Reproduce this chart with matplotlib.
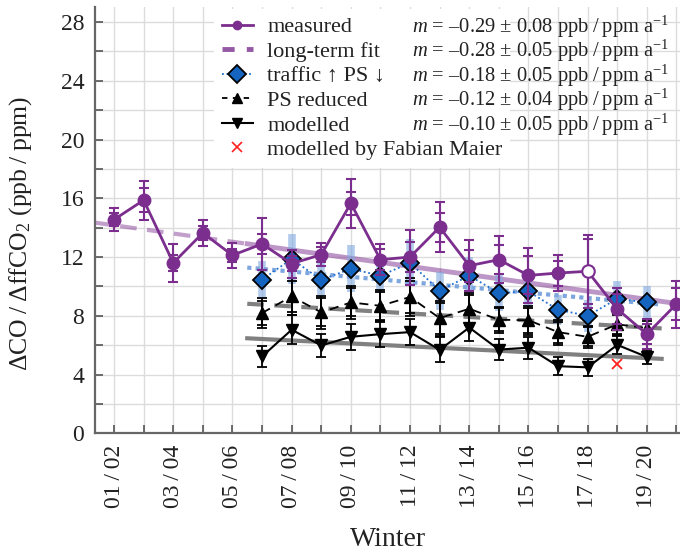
import numpy as np
import matplotlib
matplotlib.use("Agg")
import matplotlib.pyplot as plt
from matplotlib.ticker import MultipleLocator, FixedLocator
from matplotlib.lines import Line2D

plt.rcParams['font.family'] = ['Liberation Serif', 'DejaVu Serif']
plt.rcParams['mathtext.fontset'] = 'custom'
plt.rcParams['mathtext.rm'] = 'Liberation Serif'
plt.rcParams['mathtext.it'] = 'Liberation Serif:italic'

# ---------------- data ----------------
years_meas = np.arange(2001, 2021)
measured = [14.55, 15.87, 11.6, 13.64, 12.12, 12.89, 11.55, 12.16, 15.66, 11.82,
            12.0, 14.03, 11.41, 11.82, 10.75, 10.91, 11.03, 8.46, 6.75, 8.8]
meas_err_outer = [0.77, 1.33, 1.32, 0.9, 0.84, 1.77, 0.95, 0.77, 1.67, 1.07,
                  1.87, 1.7, 1.74, 1.6, 1.87, 1.2, 2.5, 1.4, 1.0, 1.6]
meas_err_inner = [0.43, 0.8, 0.55, 0.5, 0.45, 0.68, 0.5, 0.5, 0.8, 0.7,
                  1.0, 1.0, 1.1, 1.0, 1.3, 0.85, 2.2, 1.05, 0.7, 1.1]
meas_open = [False] * 16 + [True] + [False] * 3

years_mod = np.arange(2006, 2020)
traffic = [10.46, 11.87, 10.44, 11.2, 10.73, 11.6, 9.71, 10.73, 9.55, 9.66,
           8.41, 8.0, 9.16, 8.91]
traffic_err = [1.3, 1.7, 1.2, 1.6, 1.1, 1.6, 1.3, 1.3, 1.2, 1.1, 1.0, 1.1, 1.2, 1.1]
ps_reduced = [8.19, 9.32, 8.23, 8.91, 8.68, 9.28, 7.84, 8.48, 7.73, 7.7,
              6.89, 6.57, 7.42, 7.16]
ps_err_outer = [1.02, 1.25, 1.1, 1.1, 1.1, 1.3, 1.2, 1.1, 0.9, 1.0, 0.85, 0.75, 0.75, 0.6]
ps_err_inner = [0.85, 1.08, 0.95, 0.95, 0.95, 1.1, 1.05, 0.95, 0.78, 0.85, 0.72, 0.64, 0.64, 0.5]
modelled = [5.23, 7.05, 5.98, 6.57, 6.75, 6.89, 5.68, 7.2, 5.7, 5.83,
            4.57, 4.49, 6.02, 5.2]
mod_err = [0.7, 1.0, 0.8, 0.9, 0.9, 0.9, 0.85, 0.9, 0.7, 0.75, 0.6, 0.57, 0.6, 0.5]

fabian_year = [2018]
fabian_val = [4.72]

# linear fits: value at reference year and slope (per year)
fit_ref_year = 2005.5
longterm_fit = (12.9, -0.28)
traffic_fit = (11.28, -0.18)
ps_fit = (8.82, -0.12)
modelled_fit = (6.47, -0.10)
fit_span_mod = (2005.5, 2019.5)
fit_span_long_dashed = (2000.3, 2005.5)
fit_span_long_solid = (2005.5, 2020.5)

xtick_labels = ['01\u2009/\u200902', '03\u2009/\u200904', '05\u2009/\u200906', '07\u2009/\u200908',
                '09\u2009/\u200910', '11\u2009/\u200912', '13\u2009/\u200914', '15\u2009/\u200916',
                '17\u2009/\u200918', '19\u2009/\u200920']
xtick_years = [2001, 2003, 2005, 2007, 2009, 2011, 2013, 2015, 2017, 2019]

legend_labels = ['measured', 'long-term fit', 'traffic \u2191 PS \u2193', 'PS reduced',
                 'modelled', 'modelled by Fabian Maier']
slope_texts = ['$m$ = \u20130.29 \u00b1 0.08 ppb\u2009/\u2009ppm a$^{-1}$',
               '$m$ = \u20130.28 \u00b1 0.05 ppb\u2009/\u2009ppm a$^{-1}$',
               '$m$ = \u20130.18 \u00b1 0.05 ppb\u2009/\u2009ppm a$^{-1}$',
               '$m$ = \u20130.12 \u00b1 0.04 ppb\u2009/\u2009ppm a$^{-1}$',
               '$m$ = \u20130.10 \u00b1 0.05 ppb\u2009/\u2009ppm a$^{-1}$']

# ---------------- styles ----------------
PURPLE = '#7b2e8e'
BLUE_FACE = '#1565c0'
BLUE_LINE = '#1f6fd0'
BLUE_FIT = '#7ea6de'
BLUE_ERR = '#7fa9e0'
GRAY = '#808080'

fig = plt.figure(figsize=(6.8, 5.52), dpi=100)
ax = fig.add_axes([0.1403, 0.215, 0.8597, 0.7718])

def fit_line(params, span):
    x = np.linspace(span[0], span[1], 50)
    return x, params[0] + params[1] * (x - fit_ref_year)

# fits
x, y = fit_line(longterm_fit, fit_span_long_dashed)
ax.plot(x, y, color=PURPLE, alpha=0.45, lw=3, ls=(0, (4, 2.5)), zorder=2, solid_capstyle='butt')
x, y = fit_line(longterm_fit, fit_span_long_solid)
ax.plot(x, y, color=PURPLE, alpha=0.5, lw=3.5, zorder=2)
x, y = fit_line(traffic_fit, fit_span_mod)
ax.plot(x, y, color=BLUE_FIT, lw=3, ls=(0, (1, 1)), zorder=2)
x, y = fit_line(ps_fit, fit_span_mod)
ax.plot(x, y, color=GRAY, lw=3, ls=(0, (4, 2.5)), zorder=2)
x, y = fit_line(modelled_fit, fit_span_mod)
ax.plot(x, y, color=GRAY, lw=3, zorder=2)

# modelled (black, down triangles)
ax.errorbar(years_mod, modelled, yerr=mod_err, fmt='none', ecolor='black',
            elinewidth=1.3, capsize=3.5, capthick=1.3, zorder=3)
ax.plot(years_mod, modelled, color='black', lw=1.5, marker='v', ms=8, zorder=3.2)

# PS reduced
ax.errorbar(years_mod, ps_reduced, yerr=ps_err_outer, fmt='none', ecolor='black',
            elinewidth=1.3, capsize=3.5, capthick=1.3, zorder=3)
ax.errorbar(years_mod, ps_reduced, yerr=ps_err_inner, fmt='none', ecolor='black',
            elinewidth=1.3, capsize=3.5, capthick=1.3, zorder=3)
ax.plot(years_mod, ps_reduced, color='black', lw=1.3, ls=(0, (5, 3.5)), marker='^', ms=8, zorder=3.2)

# traffic up / PS down
ax.errorbar(years_mod, traffic, yerr=traffic_err, fmt='none', ecolor=BLUE_ERR,
            elinewidth=5.5, capsize=0, alpha=0.6, zorder=2.5)
ax.plot(years_mod, traffic, color=BLUE_LINE, lw=1.3, ls=(0, (1, 1.5)), zorder=3.5)
ax.plot(years_mod, traffic, ls='none', marker='D', ms=9, mfc=BLUE_FACE, mec='black',
        mew=1.3, zorder=3.6)

# measured
ax.errorbar(years_meas, measured, yerr=meas_err_outer, fmt='none', ecolor=PURPLE,
            elinewidth=1.5, capsize=3.5, capthick=1.5, zorder=4)
ax.errorbar(years_meas, measured, yerr=meas_err_inner, fmt='none', ecolor=PURPLE,
            elinewidth=1.5, capsize=3.5, capthick=1.5, zorder=4)
ax.plot(years_meas, measured, color=PURPLE, lw=2, zorder=4.2)
ym = np.array(measured)
op = np.array(meas_open)
ax.plot(years_meas[~op], ym[~op], ls='none', marker='o', ms=9, mfc=PURPLE, mec=PURPLE, zorder=4.3)
ax.plot(years_meas[op], ym[op], ls='none', marker='o', ms=9, mfc='white', mec=PURPLE,
        mew=1.5, zorder=4.3)

# Fabian Maier
ax.plot(fabian_year, fabian_val, ls='none', marker='x', ms=7, mew=1.3, color='#ff2020', zorder=5)

# axes styling
ax.set_xlim(2000.37, 2020.12)
ax.set_ylim(0, 29)
ax.yaxis.set_major_locator(MultipleLocator(4))
ax.yaxis.set_minor_locator(MultipleLocator(2))
ax.xaxis.set_major_locator(FixedLocator(xtick_years))
ax.xaxis.set_minor_locator(MultipleLocator(1))
ax.set_xticklabels(xtick_labels, rotation=90)
ax.set_yticks(range(0, 29, 4))
ax.set_yticklabels([str(v) for v in range(0, 29, 4)])
ax.tick_params(which='both', direction='in', length=6, width=1.2, color='#555555',
               labelsize=17, labelcolor='#222222')
ax.tick_params(axis='x', pad=8)
ax.tick_params(axis='y', pad=8)
ax.grid(which='both', color='#dcdcdc', lw=1.0, zorder=0)
ax.set_axisbelow(True)
for s in ['top', 'right']:
    ax.spines[s].set_visible(False)
for s in ['left', 'bottom']:
    ax.spines[s].set_color('#666666')
    ax.spines[s].set_linewidth(1.6)

ax.set_xlabel('Winter', fontsize=20, color='#222222', labelpad=14)
ax.set_ylabel('$\\Delta$CO\u2009/\u2009$\\Delta$ffCO$_2$ (ppb\u2009/\u2009ppm)', fontsize=18.5,
              color='#222222')
ax.yaxis.set_label_coords(-0.105, 0.47)

# legend
handles = [
    Line2D([], [], color=PURPLE, lw=2, marker='o', ms=6),
    Line2D([], [], color=PURPLE, alpha=0.8, lw=3.5, ls=(0, (2.5, 2.5))),
    Line2D([], [], color=BLUE_LINE, lw=1.3, ls=(0, (1, 1.5)), marker='D', ms=9,
           mfc=BLUE_FACE, mec='black', mew=1.3),
    Line2D([], [], color='black', lw=1.3, ls=(0, (3, 3)), marker='^', ms=7),
    Line2D([], [], color='black', lw=1.5, marker='v', ms=7),
    Line2D([], [], ls='none', color='#ff2020', marker='x', ms=7, mew=1.2),
]
leg = ax.legend(handles, legend_labels, loc='upper left',
                bbox_to_anchor=(214 / 680, 1 - 9 / 552), bbox_transform=fig.transFigure,
                fontsize=16, frameon=True, fancybox=False, framealpha=1,
                edgecolor='none', facecolor='white', borderaxespad=0, borderpad=0.35,
                handlelength=1.4, handletextpad=0.65, labelspacing=0.18)
leg.set_zorder(10)
for t in leg.get_texts():
    t.set_color('#222222')

fig.canvas.draw()
inv = fig.transFigure.inverted()
for t, s in zip(leg.get_texts()[:5], slope_texts):
    px = t.get_transform().transform(t.get_position())
    fx, fy = inv.transform(px)
    fig.text(412 / 680, fy, s, fontsize=14.8, color='#222222', va='baseline', ha='left', zorder=20)

fig.savefig('out.png', dpi=100)
